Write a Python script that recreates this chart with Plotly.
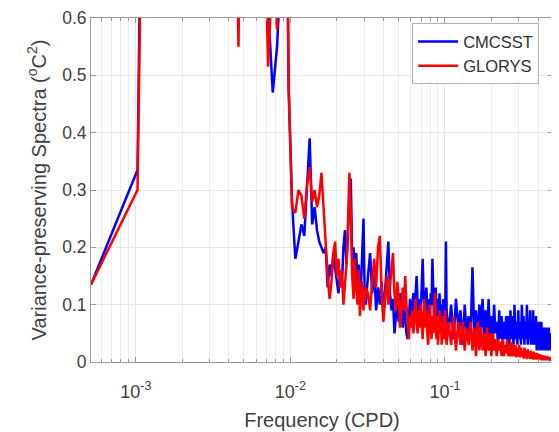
import plotly.graph_objects as go
import numpy as np

N_DAYS = 1953  # record length (days); frequency = k / N_DAYS (CPD)

# ---- harmonic indices ----
k_low = [1, 2, 3, 4, 5, 6, 7, 8, 9, 10, 11, 12, 13, 14, 15, 16, 17, 18, 19, 20]
k_mid = [21, 22, 23, 24, 25, 26, 27, 28, 29, 30, 31, 32, 33, 34, 35, 36, 37, 38, 39, 40,
         41, 42, 43, 44, 45, 46, 47, 48, 49, 50, 51, 52, 53, 54, 55, 56, 57, 58, 59, 60]
k_hi1 = [62, 64, 66, 68, 70, 72, 74, 76, 78, 80, 82, 84, 86, 88, 90, 92, 94, 96, 98, 100,
         102, 104, 106, 108, 110, 112, 114, 116, 118, 120, 122, 124, 126, 128, 130, 132, 134, 136, 138, 140,
         142, 144, 146, 148, 150, 152, 154, 156, 158, 160, 162, 164, 166, 168, 170, 172, 174, 176, 178, 180,
         182, 184, 186, 188, 190, 192, 194, 196, 198, 200]
k_hi2 = [206, 214, 222, 230, 238, 246, 254, 262, 270, 278, 286, 294, 302, 310, 318, 326, 334, 342, 350, 358,
         366, 374, 382, 390, 398, 406, 414, 422, 430, 438, 446, 454, 462, 470, 478, 486, 494, 502, 510, 518,
         526, 534, 542, 550, 558, 566, 574, 582, 590, 598, 606, 614, 622, 630, 638, 646, 654, 662, 670, 678,
         686, 694, 702, 710, 718, 726, 734, 742, 750, 758, 766, 774, 782, 790, 798, 806, 814, 822, 830, 838,
         846, 854, 862, 870, 878, 886, 894, 902, 910, 918, 926, 934, 942, 950, 958, 966, 974]

# ---- CMCSST (blue) ----
cmc_low = [0.135, 0.335, 4.0, 6.0, 9.0, 5.0, 2.5, 1.6, 1.2, 1.5, 1.0, 0.95, 0.9, 0.62, 0.47, 0.55, 0.7, 1.2, 0.48, 0.28]
cmc_mid = [0.18, 0.21, 0.24, 0.22, 0.30, 0.39, 0.24, 0.27, 0.23, 0.21, 0.20, 0.19, 0.20, 0.13, 0.17, 0.15, 0.19, 0.16, 0.14, 0.12,
           0.16, 0.13, 0.20, 0.23, 0.17, 0.22, 0.29, 0.32, 0.18, 0.20, 0.16, 0.19, 0.14, 0.17, 0.11, 0.14, 0.19, 0.25, 0.12, 0.10]
cmc_hi1 = [0.15, 0.19, 0.12, 0.16, 0.09, 0.13, 0.10, 0.14, 0.08, 0.12, 0.17, 0.21, 0.12, 0.09, 0.11, 0.05, 0.08, 0.10, 0.07, 0.12,
           0.09, 0.06, 0.10, 0.07, 0.05, 0.04, 0.08, 0.11, 0.07, 0.10, 0.12, 0.09, 0.13, 0.15, 0.10, 0.07, 0.11, 0.09, 0.13, 0.18,
           0.12, 0.08, 0.10, 0.13, 0.09, 0.06, 0.11, 0.08, 0.12, 0.10, 0.18, 0.11, 0.07, 0.10, 0.13, 0.08, 0.11, 0.06, 0.09, 0.12,
           0.08, 0.10, 0.05, 0.09, 0.11, 0.07, 0.10, 0.08, 0.21, 0.09]
cmc_hi2 = [0.05, 0.10, 0.04, 0.11, 0.06, 0.09, 0.03, 0.10, 0.05, 0.08, 0.04, 0.165, 0.05, 0.09, 0.03, 0.10, 0.06, 0.11, 0.04, 0.09,
           0.05, 0.11, 0.04, 0.08, 0.03, 0.10, 0.05, 0.07, 0.03, 0.09, 0.04, 0.08, 0.03, 0.07, 0.04, 0.08, 0.03, 0.08, 0.03, 0.09,
           0.04, 0.08, 0.03, 0.10, 0.04, 0.07, 0.03, 0.09, 0.04, 0.07, 0.03, 0.10, 0.04, 0.08, 0.03, 0.07, 0.04, 0.10, 0.03, 0.07,
           0.04, 0.09, 0.03, 0.07, 0.03, 0.09, 0.03, 0.06, 0.03, 0.08, 0.02, 0.06, 0.03, 0.07, 0.02, 0.06, 0.03, 0.07, 0.02, 0.05,
           0.03, 0.06, 0.02, 0.05, 0.03, 0.06, 0.02, 0.05, 0.02, 0.06, 0.02, 0.04, 0.02, 0.05, 0.02, 0.04, 0.06]

# ---- GLORYS (red) ----
glo_low = [0.135, 0.300, 3.6, 5.5, 8.5, 4.5, 2.2, 1.5, 0.55, 1.4, 1.0, 0.9, 0.9, 0.515, 0.7, 0.58, 0.75, 1.2, 0.48, 0.27]
glo_mid = [0.26, 0.30, 0.29, 0.25, 0.31, 0.34, 0.28, 0.30, 0.27, 0.29, 0.33, 0.27, 0.20, 0.15, 0.11, 0.14, 0.19, 0.21, 0.15, 0.18,
           0.13, 0.16, 0.10, 0.14, 0.17, 0.24, 0.33, 0.26, 0.15, 0.11, 0.18, 0.13, 0.10, 0.16, 0.08, 0.12, 0.14, 0.09, 0.11, 0.13]
glo_hi1 = [0.12, 0.09, 0.14, 0.18, 0.13, 0.20, 0.22, 0.12, 0.07, 0.11, 0.15, 0.10, 0.13, 0.17, 0.19, 0.12, 0.09, 0.14, 0.11, 0.06,
           0.10, 0.13, 0.09, 0.15, 0.10, 0.07, 0.04, 0.08, 0.06, 0.09, 0.05, 0.08, 0.11, 0.07, 0.05, 0.09, 0.06, 0.10, 0.07, 0.04,
           0.08, 0.11, 0.06, 0.09, 0.05, 0.03, 0.07, 0.10, 0.06, 0.04, 0.08, 0.05, 0.09, 0.12, 0.06, 0.04, 0.08, 0.03, 0.06, 0.09,
           0.05, 0.07, 0.03, 0.06, 0.08, 0.04, 0.06, 0.09, 0.05, 0.03]
glo_hi2 = [0.07, 0.03, 0.08, 0.02, 0.07, 0.03, 0.07, 0.02, 0.06, 0.03, 0.07, 0.02, 0.06, 0.01, 0.07, 0.02, 0.06, 0.02, 0.05, 0.01,
           0.06, 0.02, 0.05, 0.01, 0.05, 0.02, 0.04, 0.01, 0.04, 0.02, 0.035, 0.01, 0.04, 0.01, 0.03, 0.015, 0.04, 0.01, 0.03, 0.01,
           0.035, 0.01, 0.03, 0.01, 0.03, 0.008, 0.025, 0.01, 0.03, 0.008, 0.025, 0.01, 0.02, 0.006, 0.025, 0.008, 0.02, 0.005, 0.022, 0.008,
           0.018, 0.005, 0.02, 0.006, 0.016, 0.004, 0.018, 0.006, 0.014, 0.004, 0.016, 0.005, 0.012, 0.004, 0.014, 0.005, 0.012, 0.003, 0.012, 0.004,
           0.01, 0.003, 0.011, 0.004, 0.009, 0.003, 0.01, 0.003, 0.008, 0.003, 0.009, 0.002, 0.008, 0.003, 0.007, 0.002, 0.006]

x_ticks = [1e-3, 1e-2, 1e-1]
x_tick_text = ["10<sup>-3</sup>", "10<sup>-2</sup>", "10<sup>-1</sup>"]
x_minor = [6e-4, 7e-4, 8e-4, 9e-4,
           2e-3, 3e-3, 4e-3, 5e-3, 6e-3, 7e-3, 8e-3, 9e-3,
           2e-2, 3e-2, 4e-2, 5e-2, 6e-2, 7e-2, 8e-2, 9e-2,
           2e-1, 3e-1, 4e-1]

k_all = np.array(k_low + k_mid + k_hi1 + k_hi2, dtype=float)
freq = k_all / N_DAYS
cmc = cmc_low + cmc_mid + cmc_hi1 + cmc_hi2
glo = glo_low + glo_mid + glo_hi1 + glo_hi2

font_fam = "Liberation Sans, Arial, sans-serif"
txt = "#404040"

fig = go.Figure()
fig.add_trace(go.Scatter(x=freq, y=cmc, mode="lines", name="CMCSST",
                         line=dict(color="#0000ff", width=2.5)))
fig.add_trace(go.Scatter(x=freq, y=glo, mode="lines", name="GLORYS",
                         line=dict(color="#ff0000", width=2.5)))

# page body has an 8px margin; size the figure so it fits the 559x432 window
fig.update_layout(
    width=551, height=424,
    margin=dict(l=83, r=6, t=10, b=70),
    paper_bgcolor="white", plot_bgcolor="white",
    font=dict(family=font_fam, color=txt, size=18),
    showlegend=True,
    legend=dict(x=0.97, y=0.985, xanchor="right", yanchor="top",
                bgcolor="white", bordercolor="#b0b0b0", borderwidth=1,
                itemwidth=40,
                font=dict(size=16.5, color="#303030"), tracegroupgap=0),
    xaxis=dict(type="log", range=[np.log10(1.0 / N_DAYS), np.log10(0.5)],
               automargin=False,
               tickvals=x_ticks, ticktext=x_tick_text,
               ticks="inside", ticklen=5, tickcolor="#999999",
               ticklabelstandoff=13,
               showline=True, linecolor="#999999", linewidth=1, mirror="ticks",
               showgrid=True, gridcolor="#e6e6e6", gridwidth=1,
               minor=dict(tickvals=x_minor, ticks="inside", ticklen=3, tickcolor="#999999",
                          showgrid=True, gridcolor="#ececec", gridwidth=1),
               tickfont=dict(size=18, color=txt),
               title=dict(text="Frequency (CPD)", font=dict(size=20, color=txt), standoff=12),
               zeroline=False),
    yaxis=dict(range=[0, 0.6], dtick=0.1, tick0=0,
               automargin=False, ticklabeloverflow="allow",
               ticks="inside", ticklen=5, tickcolor="#999999",
               showline=True, linecolor="#999999", linewidth=1, mirror="ticks",
               showgrid=True, gridcolor="#e6e6e6", gridwidth=1,
               tickfont=dict(size=17.5, color=txt),
               title=dict(text="Variance-preserving Spectra (<sup>o</sup>C<sup>2</sup>)",
                          font=dict(size=20, color=txt), standoff=10),
               zeroline=False),
)

fig.write_html("out.html")
